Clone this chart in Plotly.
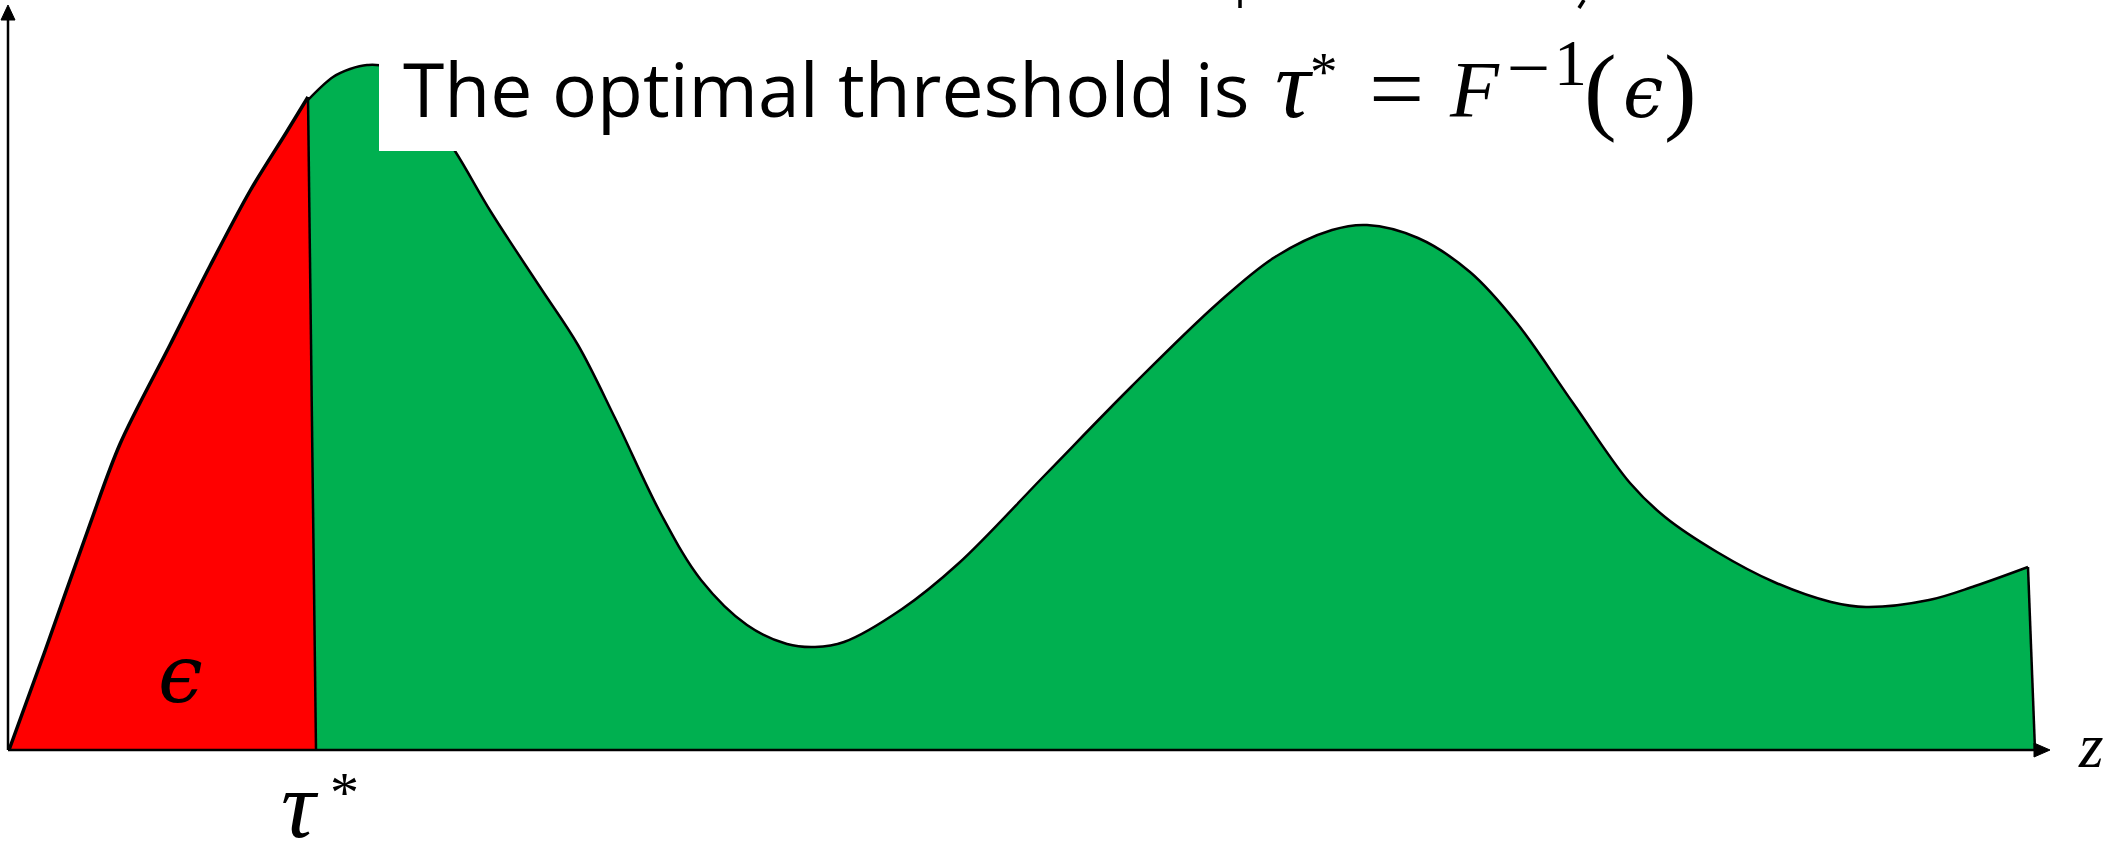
import plotly.graph_objects as go

W, H = 2119, 844

# ---- data (z on horizontal axis, density f on vertical axis) ----
# left tail (probability mass epsilon, up to the threshold tau*)
z_red = [0.0, 0.18, 0.40, 0.555, 0.805, 1.005, 1.205, 1.385, 1.495]
f_red = [0.0, 0.99, 2.23, 3.06, 4.05, 4.84, 5.59, 6.17, 6.53]

# threshold line (top on the curve, bottom on the axis)
z_tau = [1.495, 1.535]
f_tau = [6.53, 0.0]

# remaining density to the right of tau*
z_green = [1.495, 1.62, 1.705, 1.79, 1.88, 2.055, 2.23, 2.41, 2.655, 2.845, 3.03,
           3.26, 3.46, 3.69, 3.89, 4.03, 4.175, 4.465, 4.75, 5.18, 5.61, 6.045,
           6.33, 6.615, 6.79, 7.045, 7.305, 7.535, 7.82, 8.105, 8.28, 8.54,
           8.825, 9.11, 9.285, 9.60, 9.83, 10.095]
f_green = [6.50, 6.73, 6.81, 6.85, 6.83, 6.50, 5.99, 5.38, 4.63, 4.05, 3.32,
           2.36, 1.70, 1.25, 1.06, 1.03, 1.08, 1.41, 1.87, 2.75, 3.63, 4.47,
           4.93, 5.20, 5.25, 5.12, 4.78, 4.28, 3.47, 2.67, 2.33, 1.98,
           1.68, 1.48, 1.43, 1.50, 1.64, 1.83]
# right cut-off edge
z_end = [10.095, 10.13]
f_end = [1.83, 0.0]

# axis extents
Z_AXIS_END = 10.205
F_AXIS_END = 7.45

title_text = "The optimal threshold is"
eps_label = "<i>ϵ</i>"
z_label = "<i>z</i>"

GREEN = "#00B050"
RED = "#FF0000"

fig = go.Figure()
fig.add_trace(go.Scatter(x=z_green, y=f_green, mode="lines", fill="tozeroy",
                         fillcolor=GREEN, line=dict(color="black", width=2.5, shape="spline", smoothing=1.0),
                         hoverinfo="skip"))
fig.add_trace(go.Scatter(x=z_end, y=f_end, mode="lines", fill="tozeroy",
                         fillcolor=GREEN, line=dict(color="black", width=2.5),
                         hoverinfo="skip"))
fig.add_trace(go.Scatter(x=z_red, y=f_red, mode="lines", fill="tozeroy",
                         fillcolor=RED, line=dict(color="black", width=3.5, shape="spline", smoothing=0.9),
                         hoverinfo="skip"))
fig.add_trace(go.Scatter(x=z_tau, y=f_tau, mode="lines", fill="tozeroy",
                         fillcolor=RED, line=dict(color="black", width=2.5),
                         hoverinfo="skip"))

# axis ranges so that 1 z-unit = 200px and 1 f-unit = 100px
x_lo, x_hi = (0 - 9) / 200, (W - 9) / 200
y_lo, y_hi = (750 - H) / 100, (750 - 0) / 100


def px(xp):
    return xp / W


def py(yp):
    return 1 - yp / H


shapes = []
# white box behind the statement
shapes.append(dict(type="rect", xref="paper", yref="paper", x0=px(379), x1=px(1760),
                   y0=py(151), y1=1.0, fillcolor="white", line=dict(width=0), layer="above"))
# axes with arrow heads
ax0 = -0.005
shapes.append(dict(type="line", xref="x", yref="y", x0=ax0, y0=0, x1=ax0, y1=F_AXIS_END - 0.14,
                   line=dict(color="black", width=2.5), layer="above"))
shapes.append(dict(type="path", xref="x", yref="y",
                   path=f"M {ax0},{F_AXIS_END} L {ax0-0.035},{F_AXIS_END-0.15} L {ax0+0.035},{F_AXIS_END-0.15} Z",
                   fillcolor="black", line=dict(color="black", width=1), layer="above"))
shapes.append(dict(type="line", xref="x", yref="y", x0=ax0, y0=0, x1=Z_AXIS_END - 0.07, y1=0,
                   line=dict(color="black", width=2.5), layer="above"))
shapes.append(dict(type="path", xref="x", yref="y",
                   path=f"M {Z_AXIS_END},0 L {Z_AXIS_END-0.08},0.07 L {Z_AXIS_END-0.08},-0.07 Z",
                   fillcolor="black", line=dict(color="black", width=1), layer="above"))
# tiny descender fragments of a cut-off heading at the very top
shapes.append(dict(type="line", xref="paper", yref="paper", x0=px(1240), x1=px(1240), y0=py(0), y1=py(8),
                   line=dict(color="black", width=3.5), layer="above"))
shapes.append(dict(type="line", xref="paper", yref="paper", x0=px(1584), x1=px(1579), y0=py(0), y1=py(8),
                   line=dict(color="black", width=3.5), layer="above"))

SERIF = "Liberation Serif, DejaVu Serif, serif"
SANS = "Open Sans, Lato, sans-serif"


def glyph(text, xc, baseline, size, family=SERIF, descent=0.216, anchor="center"):
    """Place text so that its baseline sits at pixel row `baseline`."""
    return dict(text=text, xref="paper", yref="paper", x=px(xc), y=py(baseline + descent * size + 2),
                xanchor=anchor, yanchor="bottom", showarrow=False,
                font=dict(family=family, size=size, color="black"))


annotations = [
    glyph(title_text, 401, 117, 75, family=SANS, descent=0.293, anchor="left"),
    # tau* = F^{-1}(eps)
    glyph("<i>τ</i>", 1294, 117, 98),
    glyph("*", 1324, 65 + 0.46 * 55, 55),
    glyph("=", 1396, 92.5 + 0.29 * 98, 98),
    glyph("<i>F</i>", 1474, 117, 80),
    glyph("–", 1528, 68 + 0.24 * 70, 70),
    glyph("1", 1570, 85, 66),
    glyph("(", 1600, 122, 98),
    glyph("<i>ϵ</i>", 1643, 117, 72, family="DejaVu Serif, serif", descent=0.236),
    glyph(")", 1680, 122, 98),
    # epsilon inside the red tail
    glyph(eps_label, 180, 702, 80, family="DejaVu Serif, serif", descent=0.236),
    # tau* under the axis
    glyph("<i>τ</i>", 300, 837, 96),
    glyph("*", 344, 785.5 + 0.46 * 58, 58),
    # z axis label
    glyph(z_label, 2091, 767, 63),
]

fig.update_layout(
    width=W, height=H, autosize=False,
    margin=dict(l=0, r=0, t=0, b=0),
    paper_bgcolor="white", plot_bgcolor="white",
    showlegend=False,
    xaxis=dict(range=[x_lo, x_hi], visible=False, fixedrange=True),
    yaxis=dict(range=[y_lo, y_hi], visible=False, fixedrange=True),
    shapes=shapes, annotations=annotations,
)

fig.write_html("out.html", config={"displayModeBar": False},
               post_script="document.body.style.margin='0';document.body.style.overflow='hidden';")
